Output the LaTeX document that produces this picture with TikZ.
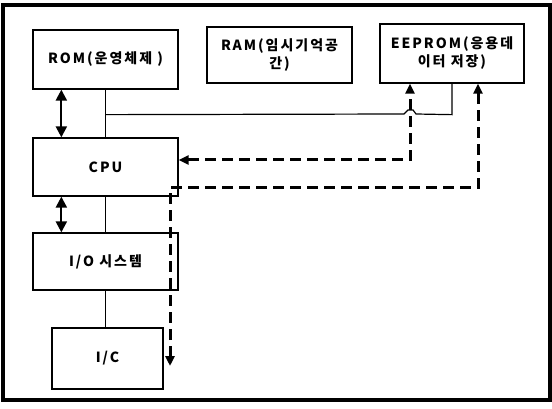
\documentclass[tikz,border=0pt]{standalone}
\usepackage{fontspec}
\setmainfont{Noto Sans CJK KR}[LetterSpace=14]
\usetikzlibrary{arrows.meta,calc}
\begin{document}
\begin{tikzpicture}[x=1pt,y=-1pt,
  box/.style={draw,line width=1.3pt,rectangle,inner sep=0pt,align=center,font=\fontsize{14}{18}\selectfont\bfseries},
  solidarrow/.style={line width=2.2pt,{Triangle[length=11pt,width=11pt]}-{Triangle[length=11pt,width=11pt]}},
  dasharrow/.style={line width=3pt,dash pattern=on 11pt off 6pt,{Triangle[length=10pt,width=9pt]}-{Triangle[length=10pt,width=9pt]}},
  wire/.style={line width=1.2pt}]
\useasboundingbox (0,0) rectangle (552,409);
\draw[line width=3.5pt] (3,5) rectangle (550,400);
\node[box,minimum width=145pt,minimum height=59pt] (rom) at (105.5,59.5) {ROM(운영체제 )};
\node[box,minimum width=145pt,minimum height=56pt] (ram) at (279.5,55) {RAM(임시기억공\\간)};
\node[box,minimum width=144pt,minimum height=59pt] (eep) at (452,53.5) {EEPROM(응용데\\이터 저장)};
\node[box,minimum width=145pt,minimum height=58pt] (cpu) at (105.5,167) {CPU};
\node[box,minimum width=145pt,minimum height=57pt] (io) at (105.5,261.5) {I/O 시스템};
\node[box,minimum width=111pt,minimum height=61pt] (ic) at (107.5,358.5) {I/C};
% solid connectors
\draw[solidarrow] ([xshift=29pt]rom.south west) -- ([xshift=29pt]cpu.north west);
\draw[solidarrow] ([xshift=29pt]cpu.south west) -- ([xshift=29pt]io.north west);
\draw[wire] (rom.south) -- (cpu.north);
\draw[wire] (cpu.south) -- (io.north);
\draw[wire] (io.south) -- (io.south |- ic.north);
\coordinate (j1) at ($(rom.south)+(0,25)$);
\draw[wire] (j1) -- (404,114) -- (408,110) -- (413,110) -- (416,114) -- (eep.south |- j1) -- (eep.south);
% dashed connectors
\draw[dasharrow] ([yshift=7pt]cpu.east) -| ([xshift=-42pt]eep.south);
\coordinate (d2end) at (170,366);
\draw[dasharrow] (d2end) |- ($(eep.south)+(26,104)$) -- ([xshift=26pt]eep.south);
\end{tikzpicture}
\end{document}
